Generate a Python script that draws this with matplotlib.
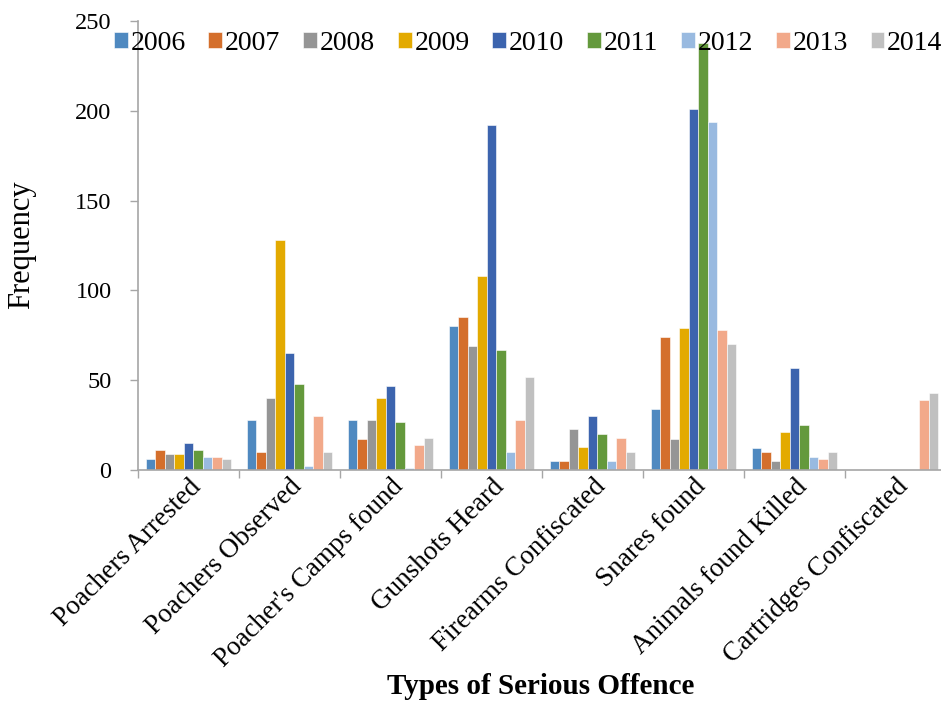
import matplotlib
matplotlib.use("Agg")
import matplotlib.pyplot as plt
import matplotlib.transforms as mtransforms
import numpy as np

categories = ["Poachers Arrested", "Poachers Observed", "Poacher's Camps found",
              "Gunshots Heard", "Firearms Confiscated", "Snares found",
              "Animals found Killed", "Cartridges Confiscated"]
years = ["2006", "2007", "2008", "2009", "2010", "2011", "2012", "2013", "2014"]

v2006 = [6, 28, 28, 80, 5, 34, 12, 0]
v2007 = [11, 10, 17, 85, 5, 74, 10, 0]
v2008 = [9, 40, 28, 69, 23, 17, 5, 0]
v2009 = [9, 128, 40, 108, 13, 79, 21, 0]
v2010 = [15, 65, 47, 192, 30, 201, 57, 0]
v2011 = [11, 48, 27, 67, 20, 238, 25, 0]
v2012 = [7, 2, 1, 10, 5, 194, 7, 0]
v2013 = [7, 30, 14, 28, 18, 78, 6, 39]
v2014 = [6, 10, 18, 52, 10, 70, 10, 43]
series = [v2006, v2007, v2008, v2009, v2010, v2011, v2012, v2013, v2014]

colors = ["#4F89C0", "#D46F2C", "#959595", "#E3AA00", "#3C64AE",
          "#64993C", "#99BAE0", "#F2A98A", "#C0C0C0"]

yticks = [0, 50, 100, 150, 200, 250]

plt.rcParams["font.family"] = ["Liberation Serif", "DejaVu Serif"]

W, H = 941, 701
fig = plt.figure(figsize=(W / 100, H / 100), dpi=100)
ax = fig.add_axes([138 / W, (H - 470) / H, 8 * 101 / W, (470 - 21) / H])

n = len(series)
group_span = 0.85
bw = group_span / n
x = np.arange(len(categories)) + 0.5
for k, (vals, col, yr) in enumerate(zip(series, colors, years)):
    offs = -group_span / 2 + bw * (k + 0.5)
    ax.bar(x + offs, vals, width=bw, color=col, label=yr,
           edgecolor="white", linewidth=0.4)

ax.set_xlim(0, len(categories))
ax.set_ylim(0, 250)
ax.set_yticks(yticks)
ax.set_xticks(np.arange(len(categories) + 1))
ax.set_xticklabels([])
ax.tick_params(axis="y", labelsize=17.5, length=6, width=1, color="#A6A6A6",
               direction="out", pad=13)
ax.tick_params(axis="x", length=6, width=1, color="#A6A6A6", direction="out")
for s in ["top", "right"]:
    ax.spines[s].set_visible(False)
for s in ["left", "bottom"]:
    ax.spines[s].set_color("#A6A6A6")
    ax.spines[s].set_linewidth(1.2)

# rotated category names, anchored just right of each group centre
offset = mtransforms.ScaledTranslation(9 / 100, -13 / 100, fig.dpi_scale_trans)
for xi, name in zip(x, categories):
    ax.text(xi, 0, name, rotation=45, rotation_mode="anchor", ha="right",
            va="center", fontsize=19.5,
            transform=ax.get_xaxis_transform() + offset)

fig.text(541 / W, (H - 686) / H, "Types of Serious Offence", ha="center",
         va="center", fontsize=21, fontweight="bold")
fig.text(22 / W, (H - 245) / H, "Frequency", ha="center", va="center",
         rotation=90, fontsize=22)

leg = ax.legend(ncol=9, loc="center left", bbox_to_anchor=(-0.03, 0.95),
                frameon=False, fontsize=20, handlelength=0.5,
                handleheight=0.5, handletextpad=0.1, columnspacing=0.82,
                borderaxespad=0, borderpad=0)

fig.savefig("out.png", dpi=100)
